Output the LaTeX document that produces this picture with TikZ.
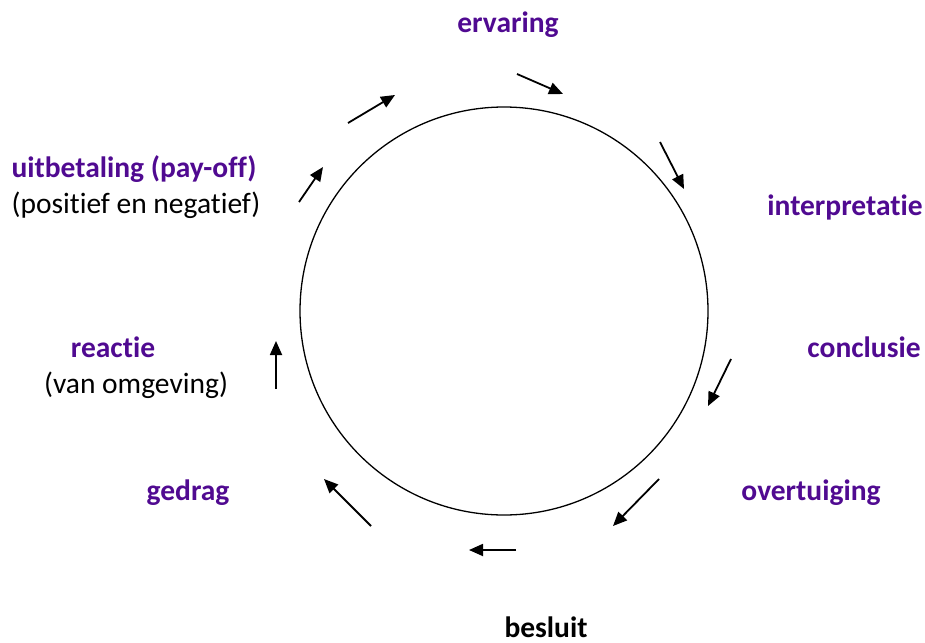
\documentclass[tikz,border=0pt]{standalone}
\usepackage{fontspec}
\setmainfont{Carlito}[Ligatures=NoCommon]
\usetikzlibrary{arrows.meta}
\definecolor{paars}{RGB}{80,10,145}
\begin{document}
\begin{tikzpicture}[x=1pt,y=-1pt,
  lbl/.style={anchor=base,inner sep=0pt,font=\fontsize{29.5}{34}\selectfont\bfseries,text=paars},
  sub/.style={anchor=base,inner sep=0pt,font=\fontsize{29.5}{34}\selectfont},
  pijl/.style={line width=1.8pt,-{Triangle[length=14pt,width=12pt]}}]
\useasboundingbox (0,0) rectangle (925,642);
\node[circle,draw,line width=1.3pt,minimum size=408pt,inner sep=0pt] (cirkel) at (504,311) {};
\node[lbl] (ervaring) at (508,33) {ervaring};
\node[lbl] (interpretatie) at (845,215) {interpretatie};
\node[lbl] (conclusie) at (864,357) {conclusie};
\node[lbl] (overtuiging) at (811,500) {overtuiging};
\node[lbl,text=black] (besluit) at (546,637) {besluit};
\node[lbl] (gedrag) at (188,500) {gedrag};
\node[lbl] (reactie) at (113,357) {reactie};
\node[sub] (omgeving) at (136,393) {(van omgeving)};
\node[lbl] (uitbetaling) at (134,177) {uitbetaling (pay-off)};
\node[sub] (positief) at (136,213) {(positief en negatief)};
\coordinate (a1s) at (517,74);  \coordinate (a1e) at (563,94);
\coordinate (a2s) at (660,142); \coordinate (a2e) at (684,189);
\coordinate (a3s) at (731,359); \coordinate (a3e) at (708,406);
\coordinate (a4s) at (659,479); \coordinate (a4e) at (613,526);
\coordinate (a5s) at (516,550); \coordinate (a5e) at (469,550);
\coordinate (a6s) at (371,526); \coordinate (a6e) at (324,479);
\coordinate (a7s) at (276,389); \coordinate (a7e) at (276,341);
\coordinate (a8s) at (299,202); \coordinate (a8e) at (323,167);
\coordinate (a9s) at (348,123); \coordinate (a9e) at (395,95);
\foreach \i in {1,...,9} {\draw[pijl] (a\i s) -- (a\i e);}
\end{tikzpicture}
\end{document}
